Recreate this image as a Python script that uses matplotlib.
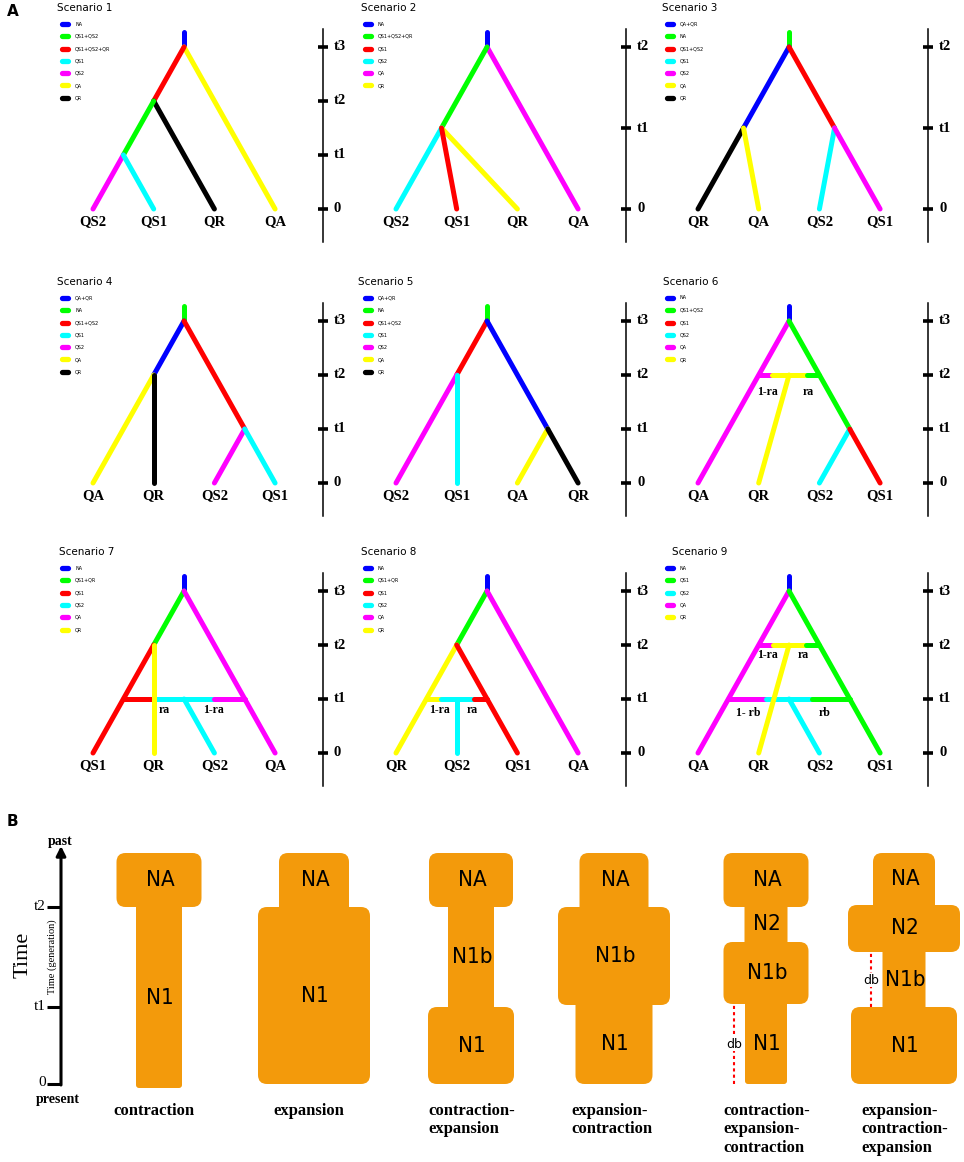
import matplotlib
matplotlib.use("Agg")
import matplotlib.pyplot as plt
from matplotlib.patches import FancyBboxPatch

W, H = 964, 1162
SERIF = "Liberation Serif"
SANS = "DejaVu Sans"
NARROW = ["Liberation Sans Narrow", "DejaVu Sans"]

# branch colours used in panel A
COL = dict(b="#0000ff", g="#00ff00", r="#ff0000", c="#00ffff",
           m="#ff00ff", y="#ffff00", k="#000000")

# ---- panel A data: edges are (x0, t0, x1, t1, colour), x in leaf slots, t in time units
s1_leaves = ["QS2", "QS1", "QR", "QA"]
s1_edges = [(1.5, 3.28, 1.5, 3, "b"), (1.5, 3, 3, 0, "y"), (1.5, 3, 1, 2, "r"),
            (1, 2, 2, 0, "k"), (1, 2, 0.5, 1, "g"), (0.5, 1, 0, 0, "m"), (0.5, 1, 1, 0, "c")]
s1_legend = [("NA", "b"), ("QS1+QS2", "g"), ("QS1+QS2+QR", "r"), ("QS1", "c"),
             ("QS2", "m"), ("QA", "y"), ("QR", "k")]

s2_leaves = ["QS2", "QS1", "QR", "QA"]
s2_edges = [(1.5, 2.19, 1.5, 2, "b"), (1.5, 2, 3, 0, "m"), (1.5, 2, 0.75, 1, "g"),
            (0.75, 1, 2, 0, "y"), (0.75, 1, 0, 0, "c"), (0.75, 1, 1, 0, "r")]
s2_legend = [("NA", "b"), ("QS1+QS2+QR", "g"), ("QS1", "r"), ("QS2", "c"),
             ("QA", "m"), ("QR", "y")]

s3_leaves = ["QR", "QA", "QS2", "QS1"]
s3_edges = [(1.5, 2.19, 1.5, 2, "g"), (1.5, 2, 0.75, 1, "b"), (0.75, 1, 0, 0, "k"),
            (0.75, 1, 1, 0, "y"), (1.5, 2, 2.25, 1, "r"), (2.25, 1, 2, 0, "c"),
            (2.25, 1, 3, 0, "m")]
s3_legend = [("QA+QR", "b"), ("NA", "g"), ("QS1+QS2", "r"), ("QS1", "c"),
             ("QS2", "m"), ("QA", "y"), ("QR", "k")]

s4_leaves = ["QA", "QR", "QS2", "QS1"]
s4_edges = [(1.5, 3.28, 1.5, 3, "g"), (1.5, 3, 1, 2, "b"), (1, 2, 0, 0, "y"),
            (1, 2, 1, 0, "k"), (1.5, 3, 2.5, 1, "r"), (2.5, 1, 2, 0, "m"),
            (2.5, 1, 3, 0, "c")]
s4_legend = [("QA+QR", "b"), ("NA", "g"), ("QS1+QS2", "r"), ("QS1", "c"),
             ("QS2", "m"), ("QA", "y"), ("QR", "k")]

s5_leaves = ["QS2", "QS1", "QA", "QR"]
s5_edges = [(1.5, 3.28, 1.5, 3, "g"), (1.5, 3, 1, 2, "r"), (1, 2, 0, 0, "m"),
            (1, 2, 1, 0, "c"), (1.5, 3, 2.5, 1, "b"), (2.5, 1, 2, 0, "y"),
            (2.5, 1, 3, 0, "k")]
s5_legend = s4_legend

s6_leaves = ["QA", "QR", "QS2", "QS1"]
s6_edges = [(1.5, 3.28, 1.5, 3, "b"), (1.5, 3, 0, 0, "m"), (1.5, 3, 2.5, 1, "g"),
            (2.5, 1, 2, 0, "c"), (2.5, 1, 3, 0, "r"),
            (1, 2, 1.22, 2, "m"), (1.22, 2, 1.8, 2, "y"), (1.8, 2, 2, 2, "g"),
            (1.5, 2, 1, 0, "y")]
s6_legend = [("NA", "b"), ("QS1+QS2", "g"), ("QS1", "r"), ("QS2", "c"),
             ("QA", "m"), ("QR", "y")]
s6_labels = [(1.15, 1.69, "1-ra"), (1.81, 1.69, "ra")]

s7_leaves = ["QS1", "QR", "QS2", "QA"]
s7_edges = [(1.5, 3.28, 1.5, 3, "b"), (1.5, 3, 1, 2, "g"), (1, 2, 0, 0, "r"),
            (1.5, 3, 3, 0, "m"),
            (0.5, 1, 1, 1, "r"), (1, 1, 2, 1, "c"), (2, 1, 2.5, 1, "m"),
            (1.5, 1, 2, 0, "c"), (1, 2, 1, 0, "y")]
s7_legend = [("NA", "b"), ("QS1+QR", "g"), ("QS1", "r"), ("QS2", "c"),
             ("QA", "m"), ("QR", "y")]
s7_labels = [(1.17, 0.8, "ra"), (1.98, 0.8, "1-ra")]

s8_leaves = ["QR", "QS2", "QS1", "QA"]
s8_edges = [(1.5, 3.28, 1.5, 3, "b"), (1.5, 3, 1, 2, "g"), (1, 2, 0, 0, "y"),
            (1, 2, 2, 0, "r"), (1.5, 3, 3, 0, "m"),
            (0.5, 1, 0.74, 1, "y"), (0.74, 1, 1.28, 1, "c"), (1.28, 1, 1.5, 1, "r"),
            (1, 1, 1, 0, "c")]
s8_legend = s7_legend
s8_labels = [(0.71, 0.8, "1-ra"), (1.25, 0.8, "ra")]

s9_leaves = ["QA", "QR", "QS2", "QS1"]
s9_edges = [(1.5, 3.28, 1.5, 3, "b"), (1.5, 3, 0, 0, "m"), (1.5, 3, 3, 0, "g"),
            (1, 2, 1.23, 2, "m"), (1.23, 2, 1.78, 2, "y"), (1.78, 2, 2, 2, "g"),
            (0.5, 1, 1.12, 1, "m"), (1.12, 1, 1.87, 1, "c"), (1.87, 1, 2.5, 1, "g"),
            (1.5, 1, 2, 0, "c"), (1.5, 2, 1, 0, "y")]
s9_legend = [("NA", "b"), ("QS1", "g"), ("QS2", "c"), ("QA", "m"), ("QR", "y")]
s9_labels = [(1.15, 1.81, "1-ra"), (1.73, 1.81, "ra"), (0.82, 0.74, "1- rb"), (2.08, 0.74, "rb")]

ticks3 = [(3, "t3"), (2, "t2"), (1, "t1"), (0, "0")]
ticks2 = [(2, "t2"), (1, "t1"), (0, "0")]

scenarios = [
    ("Scenario 1", s1_leaves, s1_edges, s1_legend, [], ticks3, 3),
    ("Scenario 2", s2_leaves, s2_edges, s2_legend, [], ticks2, 2),
    ("Scenario 3", s3_leaves, s3_edges, s3_legend, [], ticks2, 2),
    ("Scenario 4", s4_leaves, s4_edges, s4_legend, [], ticks3, 3),
    ("Scenario 5", s5_leaves, s5_edges, s5_legend, [], ticks3, 3),
    ("Scenario 6", s6_leaves, s6_edges, s6_legend, s6_labels, ticks3, 3),
    ("Scenario 7", s7_leaves, s7_edges, s7_legend, s7_labels, ticks3, 3),
    ("Scenario 8", s8_leaves, s8_edges, s8_legend, s8_labels, ticks3, 3),
    ("Scenario 9", s9_leaves, s9_edges, s9_legend, s9_labels, ticks3, 3),
]

# pixel anchor of leaf 0 / time 0 for each grid column / row
col_x0 = [93, 396, 698]
row_y0 = [209, 483, 753]
title_dx = [-36, -35, -36, -36, -38, -35, -34, -35, -26]

# ---- panel B data: (label, bottom, top, width) per column, heights above present
b_titles = ["contraction", "expansion", "contraction-\nexpansion",
            "expansion-\ncontraction", "contraction-\nexpansion-\ncontraction",
            "expansion-\ncontraction-\nexpansion"]
b_centers = [159, 314, 471, 614, 766, 904]
b_boxes = [
    [("NA", 177, 231, 85), ("N1", -4, 177, 46)],
    [("NA", 177, 231, 70), ("N1", 0, 177, 112)],
    [("NA", 177, 231, 84), ("N1b", 77, 177, 46), ("N1", 0, 77, 86)],
    [("NA", 177, 231, 69), ("N1b", 79, 177, 112), ("N1", 0, 79, 77)],
    [("NA", 177, 231, 85), ("N2", 142, 177, 43), ("N1b", 80, 142, 85), ("N1", 0, 80, 42)],
    [("NA", 179, 231, 62), ("N2", 132, 179, 112), ("N1b", 77, 132, 43), ("N1", 0, 77, 106)],
]
b_db = [(4, -32, 0, 80, 40), (5, -33, 77, 132, 104)]
b_ticks = [(177, "t2"), (77, "t1"), (0, "0")]
ORANGE = "#f39a0b"

fig = plt.figure(figsize=(W / 100, H / 100), dpi=100)


def px_axes(left, top, width, height):
    return fig.add_axes([left / W, 1 - (top + height) / H, width / W, height / H])


XS = 60.7  # px per leaf slot
for i, (title, leaves, edges, legend, labels, ticks, tmax) in enumerate(scenarios):
    lx, ty = col_x0[i % 3], row_y0[i // 3]
    ys = 162.0 / tmax
    ax = px_axes(lx - 45, ty - 212, 305, 250)
    ax.set_xlim(-45 / XS, 260 / XS)
    ax.set_ylim(-38 / ys, 212 / ys)
    ax.axis("off")

    def P(dx, dy):
        return dx / XS, -dy / ys

    for x0, t0, x1, t1, c in edges:
        ax.plot([x0, x1], [t0, t1], color=COL[c], lw=3.6,
                solid_capstyle="round", clip_on=False)
    for k, name in enumerate(leaves):
        ax.text(k, -13 / ys, name, ha="center", va="center", family=SERIF,
                weight="bold", fontsize=10.5)
    for x, t, s in labels:
        ax.text(x, t, s, ha="center", va="center", family=SERIF,
                weight="bold", fontsize=8.5)

    # time axis on the right
    axx = 230 / XS
    ax.plot([axx, axx], [-33 / ys, tmax + 18 / ys], color="black", lw=1.1)
    for t, s in ticks:
        ax.plot([axx - 5 / XS, axx + 5 / XS], [t, t], color="black", lw=2.6,
                solid_capstyle="butt")
        ax.text(axx + 11 / XS, t, s, ha="left", va="center", family=SERIF,
                weight="bold", fontsize=10.5)

    ax.text(*P(title_dx[i], -201), title, ha="left", va="center",
            family=SANS, fontsize=7.5)
    for k, (lab, c) in enumerate(legend):
        y = -185 + 12.3 * k
        (xa, ya), (xb, _) = P(-31, y), P(-25, y)
        ax.plot([xa, xb], [ya, ya], color=COL[c], lw=3.8, solid_capstyle="round")
        ax.text(*P(-18, y), lab, ha="left", va="center", family=SANS, fontsize=3.5)

fig.text(7 / W, 1 - 11 / H, "A", ha="left", va="center", family=SANS,
         weight="bold", fontsize=11)
fig.text(7 / W, 1 - 822 / H, "B", ha="left", va="center", family=SANS,
         weight="bold", fontsize=11)

# ---- panel B
axB = px_axes(0, 830, W, H - 830)
axB.set_xlim(0, W)
axB.set_ylim(1084 - H, 1084 - 830)
axB.axis("off")

for cx, boxes, title in zip(b_centers, b_boxes, b_titles):
    for j, (lab, lo, hi, w) in enumerate(boxes):
        r = 9 if w > 60 else 3
        lo2, hi2 = lo, hi
        if j > 0 and boxes[j - 1][3] > w:
            hi2 = hi + 10
        if j < len(boxes) - 1 and boxes[j + 1][3] > w:
            lo2 = lo - 10
        axB.add_patch(FancyBboxPatch((cx - w / 2, lo2), w, hi2 - lo2,
                                     boxstyle=f"round,pad=0,rounding_size={r}",
                                     fc=ORANGE, ec="none"))
        axB.text(cx + 1, (lo + hi) / 2, lab, ha="center", va="center",
                 family=NARROW, fontstretch="condensed", fontsize=16)
    if "\n" in title:
        axB.text(cx - 43, -19, title, ha="left", va="top", family=SERIF,
                 weight="bold", fontsize=12, linespacing=1.2)
    else:
        axB.text(cx - 5, -19, title, ha="center", va="top", family=SERIF,
                 weight="bold", fontsize=12)

for ci, dx, lo, hi, ty in b_db:
    x = b_centers[ci] + dx
    axB.plot([x, x], [lo, hi], color="red", lw=1.5, ls=(0, (1.5, 1.5)))
    axB.text(x, ty, "db", ha="center", va="center", family=SANS, fontsize=9,
             bbox=dict(fc="white", ec="none", pad=0.3))

# time arrow
axB.annotate("", xy=(61, 238), xytext=(61, -1),
             arrowprops=dict(arrowstyle="-|>", color="black", lw=2.2,
                             mutation_scale=14, shrinkA=0, shrinkB=0))
for t, s in b_ticks:
    axB.plot([47, 61], [t, t], color="black", lw=2.2, solid_capstyle="butt")
    axB.text(46, t + 1, s, ha="right", va="center", family=SERIF, fontsize=11)
axB.text(60, 243, "past", ha="center", va="center", family=SERIF,
         weight="bold", fontsize=10)
axB.text(58, -16, "present", ha="center", va="center", family=SERIF,
         weight="bold", fontsize=10)
axB.text(23, 129, "Time", ha="center", va="center", rotation=90,
         family=SERIF, fontsize=16)
axB.text(52, 127, "Time (generation)", ha="center", va="center", rotation=90,
         family=SERIF, fontsize=7.5)

fig.savefig("out.png", dpi=100)
